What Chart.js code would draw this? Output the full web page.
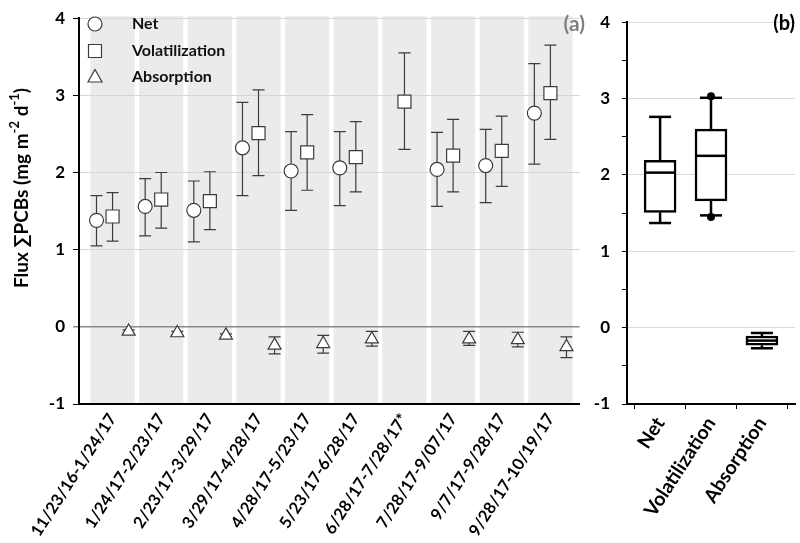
<!DOCTYPE html>
<html>
<head>
<meta charset="utf-8">
<script src="https://cdn.jsdelivr.net/npm/chart.js@4.4.1/dist/chart.umd.min.js"></script>
<style>
  html, body { margin: 0; padding: 0; background: #fff; }
  #wrap { position: relative; width: 800px; height: 543px; }
  #fluxChart { position: absolute; left: 0; top: 0; }
  #boxChart { position: absolute; left: 590px; top: 0; }
</style>
</head>
<body>
<div id="wrap">
  <canvas id="fluxChart" width="590" height="543"></canvas>
  <canvas id="boxChart" width="210" height="543"></canvas>
</div>
<script>
// sampling periods (panel a)
const periods = ['11/23/16-1/24/17', '1/24/17-2/23/17', '2/23/17-3/29/17', '3/29/17-4/28/17',
  '4/28/17-5/23/17', '5/23/17-6/28/17', '6/28/17-7/28/17*', '7/28/17-9/07/17',
  '9/7/17-9/28/17', '9/28/17-10/19/17'];

// flux, mg m-2 d-1, with lower / upper error bar ends
const netFlux = [1.38, 1.56, 1.51, 2.32, 2.02, 2.06, null, 2.04, 2.09, 2.77];
const netLow  = [1.05, 1.18, 1.10, 1.70, 1.51, 1.57, null, 1.56, 1.61, 2.11];
const netHigh = [1.70, 1.92, 1.89, 2.91, 2.53, 2.53, null, 2.52, 2.56, 3.41];

const volFlux = [1.43, 1.65, 1.63, 2.51, 2.26, 2.20, 2.92, 2.22, 2.28, 3.03];
const volLow  = [1.11, 1.28, 1.26, 1.96, 1.77, 1.75, 2.30, 1.75, 1.82, 2.43];
const volHigh = [1.74, 2.00, 2.01, 3.07, 2.75, 2.66, 3.55, 2.69, 2.73, 3.65];

const absFlux = [-0.06, -0.08, -0.11, -0.24, -0.22, -0.16, null, -0.16, -0.17, -0.26];
const absLow  = [-0.08, -0.10, -0.13, -0.35, -0.34, -0.25, null, -0.24, -0.26, -0.40];
const absHigh = [-0.04, -0.06, -0.09, -0.13, -0.11, -0.06, null, -0.06, -0.07, -0.13];

// box plot summary (panel b)
const boxCats   = ['Net', 'Volatilization', 'Absorption'];
const boxMin    = [1.37, 1.47, -0.27];
const boxQ1     = [1.51, 1.66, -0.23];
const boxMedian = [2.03, 2.25, -0.17];
const boxQ3     = [2.19, 2.60, -0.11];
const boxMax    = [2.76, 3.01, -0.07];
const boxDots   = [[], [3.03, 1.45], []];

const yTicks = [-1, 0, 1, 2, 3, 4];

const FONT = 'Lato, "Open Sans", sans-serif';
const MARK = '#3c3c3c';

function points(vals, lo, hi, off) {
  const out = [];
  vals.forEach((v, i) => {
    if (v !== null) out.push({ x: i + off, y: v, lo: lo[i], hi: hi[i] });
  });
  return out;
}

function marker(ctx, style, x, y) {
  ctx.beginPath();
  if (style === 'circle') {
    ctx.arc(x, y, 7, 0, Math.PI * 2);
  } else if (style === 'rect') {
    ctx.rect(x - 6.5, y - 6.5, 13, 13);
  } else {
    ctx.moveTo(x, y - 7.5);
    ctx.lineTo(x + 7, y + 5);
    ctx.lineTo(x - 7, y + 5);
    ctx.closePath();
  }
  ctx.fill();
  ctx.stroke();
}

// grey column behind each sampling period
const bands = {
  id: 'bands',
  beforeDraw(chart) {
    const { ctx, chartArea: a, scales: { x } } = chart;
    ctx.save();
    ctx.fillStyle = '#ebebeb';
    periods.forEach((_, i) => {
      const l = x.getPixelForValue(i - 0.455);
      const r = x.getPixelForValue(i + 0.455);
      ctx.fillRect(l, a.top - 2, r - l, a.bottom - a.top + 2);
    });
    ctx.restore();
  }
};

const errorBars = {
  id: 'errorBars',
  beforeDatasetsDraw(chart) {
    const { ctx, scales: { y } } = chart;
    ctx.save();
    ctx.strokeStyle = MARK;
    ctx.lineWidth = 1.2;
    chart.data.datasets.forEach((ds, di) => {
      chart.getDatasetMeta(di).data.forEach((el, i) => {
        const p = ds.data[i];
        const t = y.getPixelForValue(p.hi), b = y.getPixelForValue(p.lo);
        ctx.beginPath();
        ctx.moveTo(el.x, t); ctx.lineTo(el.x, b);
        ctx.moveTo(el.x - 6, t); ctx.lineTo(el.x + 6, t);
        ctx.moveTo(el.x - 6, b); ctx.lineTo(el.x + 6, b);
        ctx.stroke();
      });
    });
    ctx.restore();
  }
};

const fluxDecor = {
  id: 'fluxDecor',
  afterDraw(chart) {
    const ctx = chart.ctx;
    ctx.save();
    // legend inside plot
    ctx.strokeStyle = MARK;
    ctx.lineWidth = 1.2;
    const items = [['circle', 'Net', 24], ['rect', 'Volatilization', 51], ['triangle', 'Absorption', 77]];
    items.forEach(([st, txt, yy]) => {
      ctx.fillStyle = '#fff';
      marker(ctx, st, 95, yy);
      ctx.fillStyle = '#111';
      ctx.font = 'bold 16px ' + FONT;
      ctx.textAlign = 'left';
      ctx.textBaseline = 'middle';
      ctx.fillText(txt, 132, yy);
    });
    // panel tag
    ctx.fillStyle = '#7f7f7f';
    ctx.font = 'bold 21px ' + FONT;
    ctx.textAlign = 'right';
    ctx.fillText('(a)', 585, 24);
    // y axis title with superscripts
    const parts = [['Flux \u2211PCBs (mg m', false], ['-2', true], [' d', false], ['-1', true], [')', false]];
    const big = 'bold 19px ' + FONT, small = 'bold 13px ' + FONT;
    let total = 0;
    parts.forEach(([s, sup]) => { ctx.font = sup ? small : big; total += ctx.measureText(s).width; });
    ctx.translate(22, 188);
    ctx.rotate(-Math.PI / 2);
    ctx.fillStyle = '#000';
    ctx.textAlign = 'left';
    ctx.textBaseline = 'middle';
    let px = -total / 2;
    parts.forEach(([s, sup]) => {
      ctx.font = sup ? small : big;
      ctx.fillText(s, px, sup ? -7 : 0);
      px += ctx.measureText(s).width;
    });
    ctx.restore();
  }
};

new Chart(document.getElementById('fluxChart'), {
  type: 'scatter',
  data: {
    datasets: [
      { label: 'Net', data: points(netFlux, netLow, netHigh, -0.33),
        pointStyle: 'circle', pointRadius: 7, pointHoverRadius: 7 },
      { label: 'Volatilization', data: points(volFlux, volLow, volHigh, 0),
        pointStyle: 'rect', pointRadius: 9.2, pointHoverRadius: 9.2 },
      { label: 'Absorption', data: points(absFlux, absLow, absHigh, 0.33),
        pointStyle: 'triangle', pointRadius: 7.5, pointHoverRadius: 7.5 }
    ].map(d => Object.assign(d, {
      backgroundColor: '#fff', borderColor: MARK, borderWidth: 1.2, showLine: false
    }))
  },
  options: {
    responsive: false,
    animation: false,
    layout: { padding: { top: 12, right: 5, left: 0, bottom: 0 } },
    plugins: { legend: { display: false }, tooltip: { enabled: false } },
    scales: {
      x: {
        type: 'linear',
        min: -0.69,
        max: 9.6,
        afterBuildTicks: s => { s.ticks = periods.map((_, i) => ({ value: i })); },
        afterFit: s => { s.height = 139; },
        ticks: {
          autoSkip: false, minRotation: 57, maxRotation: 57, padding: 6,
          color: '#000', font: { family: FONT, size: 16.5, weight: 'bold' },
          callback: v => periods[v]
        },
        grid: { display: false, drawTicks: false },
        border: { color: '#000', width: 2 }
      },
      y: {
        min: -1,
        max: 4,
        afterBuildTicks: s => { s.ticks = yTicks.map(v => ({ value: v })); },
        afterFit: s => { s.width = 79; },
        ticks: { color: '#000', padding: 8, font: { family: FONT, size: 17, weight: 'bold' } },
        grid: {
          color: c => c.tick.value === 0 ? '#8a8a8a' : (c.tick.value === -1 ? 'rgba(0,0,0,0)' : '#d6d6d6'),
          lineWidth: c => c.tick.value === 0 ? 1.5 : 1,
          tickLength: 6,
          tickColor: c => c.tick.value === 0 ? '#8a8a8a' : '#000'
        },
        border: { color: '#000', width: 2 }
      }
    }
  },
  plugins: [bands, errorBars, fluxDecor]
});

// median, whiskers, end dots and panel tag for the box plot
const boxExtras = {
  id: 'boxExtras',
  afterDatasetsDraw(chart) {
    const { ctx, scales: { x, y } } = chart;
    ctx.save();
    ctx.strokeStyle = '#000';
    ctx.fillStyle = '#000';
    ctx.lineWidth = 2.5;
    boxCats.forEach((_, i) => {
      const cx = x.getPixelForValue(i);
      const seg = (x1, y1, x2, y2) => { ctx.beginPath(); ctx.moveTo(x1, y1); ctx.lineTo(x2, y2); ctx.stroke(); };
      const ym = y.getPixelForValue(boxMedian[i]);
      seg(cx - 15, ym, cx + 15, ym);
      const yMax = y.getPixelForValue(boxMax[i]), yMin = y.getPixelForValue(boxMin[i]);
      seg(cx, y.getPixelForValue(boxQ3[i]), cx, yMax);
      seg(cx, y.getPixelForValue(boxQ1[i]), cx, yMin);
      seg(cx - 11, yMax, cx + 11, yMax);
      seg(cx - 11, yMin, cx + 11, yMin);
      boxDots[i].forEach(v => {
        ctx.beginPath();
        ctx.arc(cx, y.getPixelForValue(v), 4, 0, Math.PI * 2);
        ctx.fill();
      });
    });
    ctx.font = 'bold 20px ' + FONT;
    ctx.textAlign = 'right';
    ctx.textBaseline = 'middle';
    ctx.fillText('(b)', 205, 24);
    ctx.restore();
  }
};

new Chart(document.getElementById('boxChart'), {
  type: 'bar',
  data: {
    datasets: [{
      data: boxCats.map((_, i) => ({ x: i, y: [boxQ1[i], boxQ3[i]] })),
      backgroundColor: '#fff',
      borderColor: '#000',
      borderWidth: 2.5,
      borderSkipped: false,
      barThickness: 32
    }]
  },
  options: {
    responsive: false,
    animation: false,
    layout: { padding: { top: 12, right: 5, left: 0, bottom: 0 } },
    plugins: { legend: { display: false }, tooltip: { enabled: false } },
    scales: {
      x: {
        type: 'linear',
        min: -0.65,
        max: 2.65,
        offset: false,
        afterBuildTicks: s => { s.ticks = boxCats.map((_, i) => ({ value: i })); },
        afterFit: s => { s.height = 139; },
        ticks: {
          autoSkip: false, minRotation: 57, maxRotation: 57, padding: 4,
          color: '#000', font: { family: FONT, size: 19.5, weight: 'bold' },
          callback: v => boxCats[v]
        },
        grid: { drawOnChartArea: false, tickLength: 5, color: '#000', tickColor: '#000' },
        border: { color: '#000', width: 2 }
      },
      y: {
        min: -1,
        max: 4,
        ticks: {
          stepSize: 0.5, color: '#000', padding: 12,
          font: { family: FONT, size: 17, weight: 'bold' },
          callback: v => Number.isInteger(v) ? v : ''
        },
        afterFit: s => { s.width = 37; },
        grid: {
          color: c => (Number.isInteger(c.tick.value) && c.tick.value > -1) ? '#d9d9d9' : 'rgba(0,0,0,0)',
          tickLength: 5,
          tickColor: '#000'
        },
        border: { color: '#000', width: 2 }
      }
    }
  },
  plugins: [boxExtras]
});
</script>
</body>
</html>
